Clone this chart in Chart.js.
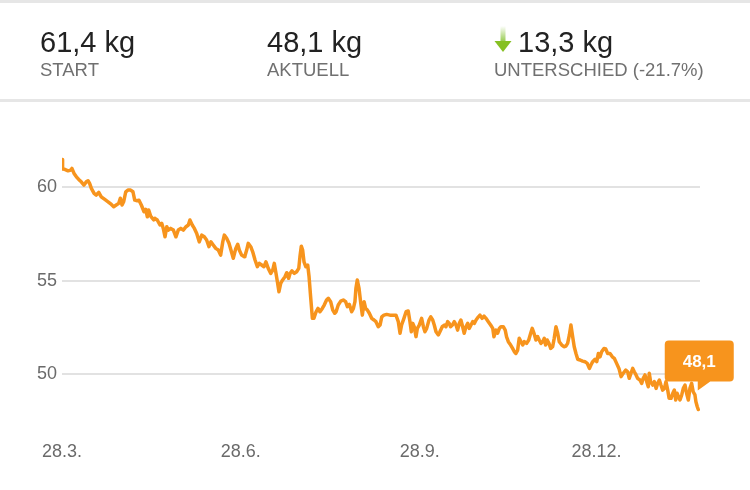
<!DOCTYPE html>
<html>
<head>
<meta charset="utf-8">
<script src="https://cdn.jsdelivr.net/npm/chart.js@4"></script>
<style>
html,body{margin:0;padding:0;background:#fff;width:750px;height:490px;overflow:hidden;font-family:"Liberation Sans",Arial,Helvetica,sans-serif;}
#topline{position:absolute;left:0;top:0;width:750px;height:3px;background:#e6e6e6;}
#botline{position:absolute;left:0;top:99px;width:750px;height:3px;background:#e6e6e6;}
.val{position:absolute;top:28px;font-size:29px;line-height:29px;color:#222;white-space:nowrap;}
.lbl{position:absolute;top:60px;font-size:18.5px;line-height:19px;color:#707070;white-space:nowrap;}
#wrap{position:absolute;left:0;top:0;width:750px;height:490px;}
#arrow{position:absolute;left:494px;top:26px;}
</style>
</head>
<body>
<div id="wrap"><canvas id="c" width="750" height="490"></canvas></div>
<div id="topline"></div>
<div id="botline"></div>
<div class="val" style="left:40px">61,4 kg</div>
<div class="lbl" style="left:40px">START</div>
<div class="val" style="left:267px">48,1 kg</div>
<div class="lbl" style="left:267px">AKTUELL</div>
<svg id="arrow" width="18" height="27" viewBox="0 0 18 27">
  <defs>
    <linearGradient id="g" x1="0" y1="0" x2="0" y2="1">
      <stop offset="0" stop-color="#ffffff"/>
      <stop offset="1" stop-color="#8dc63f"/>
    </linearGradient>
  </defs>
  <rect x="6.5" y="0" width="5" height="17" fill="url(#g)"/>
  <polygon points="0.5,15 17.5,15 9,26" fill="#86c023"/>
</svg>
<div class="val" style="left:518px">13,3 kg</div>
<div class="lbl" style="left:494px">UNTERSCHIED (-21.7%)</div>
<script>
// Days since 28.3. (x) and weight in kg (y)
const days = [0,0.3,1.4,3.1,4.5,5.1,6.2,7.4,8.6,9.9,11.3,12.5,13.4,14.2,15.1,16.5,17.6,18.9,20.2,22.0,23.7,25.4,26.6,27.9,29.2,30.0,30.9,31.7,32.8,33.9,35.3,36.5,37.4,38.7,39.6,40.8,42.2,43.1,43.9,44.6,45.6,47.2,
47.8,49.0,50.4,51.3,52.1,53.0,53.9,54.7,55.9,57.3,58.6,59.8,61.1,62.4,63.8,65.0,65.8,67.0,68.1,69.3,70.6,71.9,73.2,74.4,75.6,76.6,77.8,79.1,80.4,81.6,82.7,83.5,84.7,85.9,86.9,88.1,89.4,90.4,91.2,92.4,93.8,
94.1,95.0,95.8,97.1,98.1,99.3,100.5,101.5,102.7,103.9,104.9,106.1,107.4,108.4,109.2,110.1,110.8,111.6,112.5,113.5,114.7,115.6,116.6,117.3,118.3,119.5,120.7,121.8,122.4,123.1,123.8,124.5,125.4,126.4,127.1,127.9,128.8,129.6,130.7,131.7,132.7,133.9,134.9,136.1,137.0,138.2,139.3,140.3,
141.0,142.1,143.4,144.7,145.9,146.8,147.8,149.0,149.9,150.7,151.2,151.9,152.8,153.7,154.5,155.4,156.2,157.1,158.1,159.3,160.5,161.5,162.7,163.6,164.5,165.6,167.0,168.7,170.4,171.8,173.0,173.9,174.7,175.9,177.0,178.1,179.0,179.7,180.4,181.2,182.1,182.8,183.8,185.0,
185.9,186.7,187.6,188.8,189.7,190.7,191.5,192.4,193.6,194.4,195.6,196.7,197.5,198.4,199.2,199.9,200.8,201.8,202.7,203.5,204.4,205.2,206.1,206.9,207.8,208.7,209.5,210.4,211.3,212.1,213.0,214.2,215.0,216.1,217.1,218.1,219.3,220.5,221.6,222.2,223.3,224.1,225.0,225.8,227.0,228.0,228.7,229.6,230.8,231.8,232.7,
233.5,234.4,235.2,236.1,237.0,237.8,239.0,240.1,241.1,241.9,242.8,243.8,244.7,245.5,246.4,247.3,248.1,248.8,249.6,250.5,251.4,252.4,253.2,254.1,255.0,255.8,257.1,258.2,259.3,260.1,261.0,261.8,262.7,263.5,264.4,265.3,266.5,267.8,269.0,270.2,271.3,272.1,273.0,274.2,275.1,275.9,276.8,277.6,278.8,
279.7,280.7,281.9,283.1,284.1,285.3,286.5,287.6,288.7,290.0,291.0,291.8,292.7,293.6,294.4,295.3,296.1,297.3,298.2,299.0,299.9,300.8,301.6,302.1,302.8,303.9,304.7,305.6,306.4,307.3,308.1,309.0,309.9,310.7,311.6,312.3,313.3,314.2,315.0,315.7,316.4,317.1,317.9,318.8,319.6,320.5,321.3,322.2,323.0,323.9,324.7,325.6,326.1,326.8,327.3];

const weights = [61.48,60.97,60.95,60.87,60.91,61.0,60.73,60.55,60.41,60.28,60.11,60.28,60.34,60.2,59.93,59.66,59.57,59.72,59.48,59.34,59.21,59.07,58.95,59.04,59.13,59.4,59.04,59.21,59.75,59.84,59.84,59.75,59.3,59.27,59.3,59.04,58.68,58.81,58.41,58.77,58.45,58.24,
58.33,58.24,57.97,58.06,57.79,57.34,57.88,57.7,57.79,57.7,57.34,57.7,57.79,57.7,57.88,57.97,58.24,57.97,57.79,57.52,57.07,57.43,57.34,57.17,56.81,57.07,56.9,56.72,56.63,56.36,57.07,57.43,57.26,56.99,56.63,56.19,56.72,56.94,56.63,56.36,56.27,
56.31,56.63,56.99,56.81,56.54,56.1,55.74,55.92,55.83,55.74,56.0,55.65,55.38,55.56,55.92,55.38,54.94,54.4,54.85,55.03,55.2,55.42,55.12,55.38,55.52,55.38,55.47,55.65,56.27,56.84,56.63,56.0,55.74,55.83,55.2,54.13,52.98,52.98,53.33,53.51,53.33,53.51,53.69,53.96,54.05,53.87,53.42,53.25,
53.33,53.69,53.9,53.96,53.87,53.6,53.73,53.33,53.51,53.87,54.58,55.03,54.58,53.78,53.15,53.87,53.51,53.42,53.25,52.98,52.89,52.8,52.53,52.62,53.06,53.15,53.19,53.15,53.15,53.15,52.8,52.18,52.62,52.98,53.33,53.37,52.8,52.26,52.71,52.53,52.0,52.44,52.62,52.98,
52.53,52.26,52.44,52.89,53.06,52.89,52.62,52.26,52.09,52.26,52.53,52.62,52.53,52.8,52.71,52.53,52.62,52.8,52.62,52.35,52.71,52.89,52.53,52.18,52.53,52.71,52.44,52.62,52.8,52.71,52.89,53.06,53.15,52.98,53.1,52.98,52.8,52.62,52.44,51.99,52.35,52.18,52.44,52.53,52.53,52.35,51.99,51.73,51.55,51.37,51.19,
51.1,51.28,51.91,51.73,51.55,51.73,51.64,51.82,52.18,52.44,52.18,51.82,52.0,51.82,51.64,51.73,51.91,51.55,51.82,51.64,51.37,51.46,51.91,52.53,52.18,51.73,51.55,51.46,51.5,51.64,52.09,52.62,51.99,51.46,51.1,50.79,50.75,50.69,50.66,50.57,50.3,50.48,50.66,50.79,50.66,51.1,50.92,51.19,51.37,
51.34,51.1,51.1,50.92,50.84,50.57,50.3,49.86,50.04,50.21,50.12,49.77,50.04,50.3,50.12,49.95,49.77,49.68,49.5,49.77,49.95,49.59,49.32,50.04,49.59,49.41,49.59,49.23,49.5,49.68,49.41,49.14,49.23,49.59,49.14,48.7,48.7,48.97,49.14,48.61,48.97,48.79,48.61,48.88,49.23,49.41,48.97,48.61,49.23,49.5,49.05,48.88,48.52,48.25,48.1];

const tickDays = [0, 92, 184, 275];
const tickLabels = ['28.3.', '28.6.', '28.9.', '28.12.'];
const yTicks = [50, 55, 60];
const currentLabel = '48,1';

const ORANGE = '#f7941d';
const FONT = '"Liberation Sans", Arial, Helvetica, sans-serif';

const calloutPlugin = {
  id: 'callout',
  afterDatasetsDraw(chart) {
    const meta = chart.getDatasetMeta(0);
    const pt = meta.data[meta.data.length - 1];
    const ctx = chart.ctx;
    const w = 69, h = 41;
    const bx = pt.x - 33.5;
    const bottom = pt.y - 28;
    const top = bottom - h;
    const r = 4;
    ctx.save();
    ctx.fillStyle = ORANGE;
    ctx.beginPath();
    ctx.moveTo(bx + r, top);
    ctx.lineTo(bx + w - r, top);
    ctx.quadraticCurveTo(bx + w, top, bx + w, top + r);
    ctx.lineTo(bx + w, bottom - r);
    ctx.quadraticCurveTo(bx + w, bottom, bx + w - r, bottom);
    ctx.lineTo(pt.x + 12, bottom);
    ctx.lineTo(pt.x - 0.5, bottom + 9);
    ctx.lineTo(pt.x - 0.5, bottom);
    ctx.lineTo(bx + r, bottom);
    ctx.quadraticCurveTo(bx, bottom, bx, bottom - r);
    ctx.lineTo(bx, top + r);
    ctx.quadraticCurveTo(bx, top, bx + r, top);
    ctx.closePath();
    ctx.fill();
    ctx.fillStyle = '#ffffff';
    ctx.font = 'bold 17px ' + FONT;
    ctx.textAlign = 'center';
    ctx.textBaseline = 'middle';
    ctx.fillText(currentLabel, bx + w / 2, top + h / 2 + 1);
    ctx.restore();
  }
};

new Chart(document.getElementById('c'), {
  type: 'line',
  data: {
    datasets: [{
      data: days.map((d, i) => ({ x: d, y: weights[i] })),
      borderColor: ORANGE,
      borderWidth: 3.5,
      pointRadius: 0,
      tension: 0,
      fill: false,
      borderJoinStyle: 'round',
      borderCapStyle: 'round'
    }]
  },
  options: {
    responsive: false,
    animation: false,
    events: [],
    layout: { padding: { left: 0, right: 50, top: 131, bottom: 0 } },
    plugins: { legend: { display: false }, tooltip: { enabled: false } },
    scales: {
      x: {
        type: 'linear',
        min: 0,
        max: 328.2,
        grid: { display: false, drawTicks: false },
        border: { display: false },
        afterBuildTicks: (a) => { a.ticks = tickDays.map(v => ({ value: v })); },
        afterFit: (a) => { a.height = 69.25; },
        ticks: {
          autoSkip: false,
          maxRotation: 0,
          padding: 20,
          color: '#6a6a6a',
          font: { size: 18, family: FONT },
          callback: (v) => tickLabels[tickDays.indexOf(v)]
        }
      },
      y: {
        min: 47.5,
        max: 63,
        grid: { color: '#e2e2e2', lineWidth: 2, drawTicks: false },
        border: { display: false },
        afterBuildTicks: (a) => { a.ticks = yTicks.map(v => ({ value: v })); },
        afterFit: (a) => { a.width = 62; },
        ticks: {
          padding: 5,
          color: '#6a6a6a',
          font: { size: 18, family: FONT }
        }
      }
    }
  },
  plugins: [calloutPlugin]
});
</script>
</body>
</html>
